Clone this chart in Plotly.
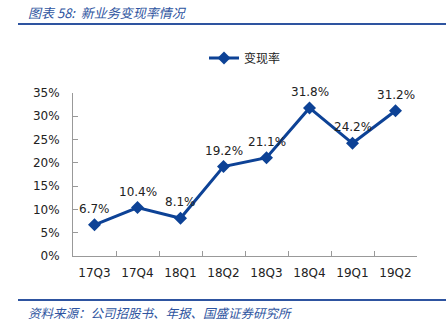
import plotly.graph_objects as go

categories = ["17Q3", "17Q4", "18Q1", "18Q2", "18Q3", "18Q4", "19Q1", "19Q2"]
values = [0.067, 0.104, 0.081, 0.192, 0.211, 0.318, 0.242, 0.312]
labels = ["6.7%", "10.4%", "8.1%", "19.2%", "21.1%", "31.8%", "24.2%", "31.2%"]
series_name = "变现率"
title_text = "图表 58:  新业务变现率情况"
source_text = "资料来源：公司招股书、年报、国盛证券研究所"

W, H = 446, 331
L, R, T, B = 73, 29, 93, 75
pw, ph = W - L - R, H - T - B

def px(x):
    return (x - L) / pw

def py(y):
    return (H - B - y) / ph

line_color = "#0d4296"
deco = "#2e54a0"
axis_col = "#999999"
font_lat = "Tahoma, Verdana, DejaVu Sans, sans-serif"
font_cjk = "Noto Sans CJK SC, sans-serif"

fig = go.Figure()
fig.add_trace(go.Scatter(
    x=categories, y=values, name=series_name,
    mode="lines+markers",
    line=dict(color=line_color, width=3),
    marker=dict(symbol="diamond", size=10, color=line_color),
    cliponaxis=False,
))

anns = [
    dict(x=c, y=v, text=t, xref="x", yref="y", showarrow=False,
         yanchor="bottom", yshift=7,
         font=dict(family=font_lat, size=12, color="#222"))
    for c, v, t in zip(categories, values, labels)
]
anns += [
    dict(text=title_text, xref="paper", yref="paper", x=px(26), y=py(12),
         xanchor="left", yanchor="middle", showarrow=False,
         font=dict(family=font_cjk, size=13, color="#2e54a0", style="italic")),
    dict(text=source_text, xref="paper", yref="paper", x=px(26), y=py(312),
         xanchor="left", yanchor="middle", showarrow=False,
         font=dict(family=font_cjk, size=12.5, color="#2e54a0", style="italic")),
]

fig.update_layout(
    width=W, height=H,
    margin=dict(l=L, r=R, t=T, b=B),
    paper_bgcolor="white", plot_bgcolor="white",
    showlegend=True,
    legend=dict(orientation="h", x=0.5, xanchor="center", y=py(58), yanchor="middle",
                font=dict(family=font_cjk, size=12, color="#222")),
    xaxis=dict(type="category", showline=True, linecolor=axis_col, linewidth=1,
               ticks="inside", ticklen=5, tickcolor=axis_col, tickson="boundaries",
               ticklabelstandoff=6,
               tickfont=dict(family=font_lat, size=12, color="#222"),
               showgrid=False, range=[-0.5, 7.5]),
    yaxis=dict(range=[0, 0.35], dtick=0.05, tickformat=".0%", showline=True,
               linecolor=axis_col, linewidth=1, ticks="inside", ticklen=5,
               tickcolor=axis_col, showgrid=False, zeroline=False,
               ticklabelstandoff=10,
               tickfont=dict(family=font_lat, size=12, color="#222")),
    shapes=[
        dict(type="line", xref="paper", yref="paper", x0=px(18), x1=px(446),
             y0=py(24), y1=py(24), line=dict(color=deco, width=2)),
        dict(type="line", xref="paper", yref="paper", x0=px(18), x1=px(446),
             y0=py(300), y1=py(300), line=dict(color=deco, width=2)),
    ],
    annotations=anns,
)

fig.write_html("out.html")
